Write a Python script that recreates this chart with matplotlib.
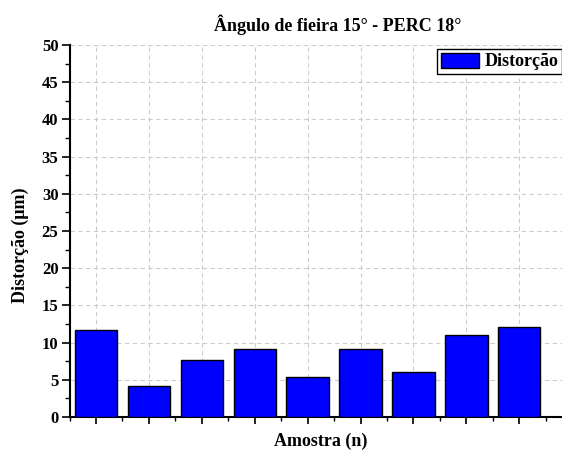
import matplotlib
matplotlib.use("Agg")
import matplotlib.pyplot as plt
from matplotlib.ticker import MultipleLocator

# Data
amostras = [1, 2, 3, 4, 5, 6, 7, 8, 9]
distorcao = [11.7, 4.2, 7.7, 9.1, 5.4, 9.2, 6.0, 11.0, 12.05]

plt.rcParams['font.family'] = ['Liberation Serif', 'DejaVu Serif']
plt.rcParams['font.weight'] = 'bold'

fig = plt.figure(figsize=(5.62, 4.53), dpi=100)
# axes runs slightly past the right edge, as in the cropped original
ax = fig.add_axes([69.6 / 562, 1 - 417 / 453, (564 - 69.6) / 562, (417 - 45) / 453])

ax.bar(amostras, distorcao, width=0.8, color='#0000ff', edgecolor='black',
       linewidth=1.0, label='Distorção', zorder=3)

ax.set_xlim(0.5, 0.5 + (564 - 69.6) / 52.9)
ax.set_ylim(0, 50)
ax.xaxis.set_major_locator(MultipleLocator(1))
ax.xaxis.set_minor_locator(MultipleLocator(0.5))
ax.yaxis.set_major_locator(MultipleLocator(5))
ax.yaxis.set_minor_locator(MultipleLocator(2.5))
ax.tick_params(axis='x', which='major', direction='out', length=5, width=1.2, labelbottom=False)
ax.tick_params(axis='x', which='minor', direction='out', length=3, width=1.0)
ax.tick_params(axis='y', which='major', direction='out', length=6, width=1.2, labelsize=12, pad=2)
ax.tick_params(axis='y', which='minor', direction='out', length=3.5, width=1.0)
for lab in ax.get_yticklabels():
    lab.set_fontweight('bold')

ax.grid(True, which='major', color='#cccccc', linestyle=(0, (4, 3)), linewidth=0.8, zorder=0)
ax.set_axisbelow(True)

for s in ['top', 'right']:
    ax.spines[s].set_visible(False)
for s in ['left', 'bottom']:
    ax.spines[s].set_linewidth(1.5)

fig.text(337.7 / 562, 1 - 25 / 453, 'Ângulo de fieira 15° - PERC 18°', ha='center', va='center',
         fontsize=13, fontweight='bold')
fig.text(321 / 562, 1 - 441 / 453, 'Amostra (n)', ha='center', va='center',
         fontsize=13, fontweight='bold')
fig.text(20 / 562, 1 - 245 / 453, 'Distorção (μm)', ha='center', va='center',
         rotation=90, fontsize=13, fontweight='bold')

leg = fig.legend(loc='upper left', bbox_to_anchor=(437 / 562, 1 - 49 / 453), borderaxespad=0,
                 fancybox=False, framealpha=1, edgecolor='black', fontsize=13,
                 handlelength=2.1, handleheight=0.9, borderpad=0.2, handletextpad=0.35)
leg.get_frame().set_linewidth(1.0)
for t in leg.get_texts():
    t.set_fontweight('bold')

fig.savefig('out.png', dpi=100)
